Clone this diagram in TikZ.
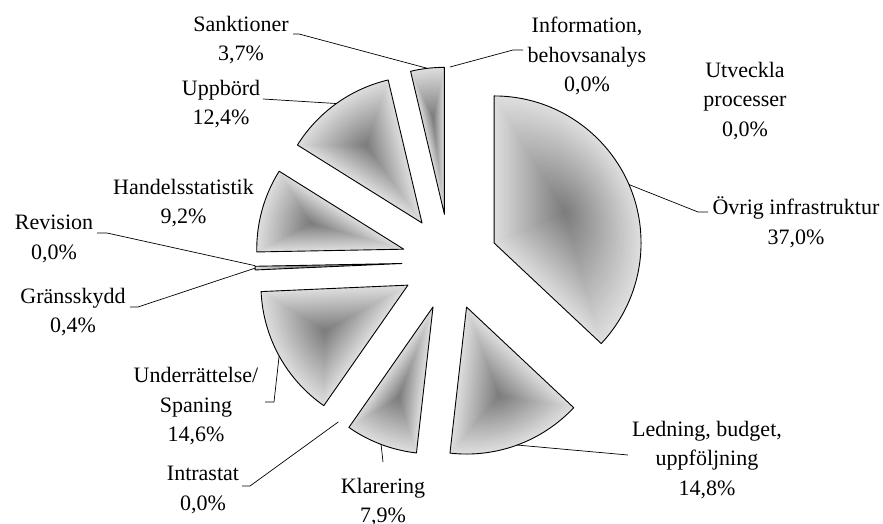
\documentclass[tikz,border=0pt]{standalone}
\usepackage{fontspec}
\setmainfont{Liberation Serif}

\tikzset{
  slice edge/.style={draw=black, line width=0.9pt, line join=round},
  leader/.style={draw=black, line width=0.7pt},
  lbl/.style={align=center, inner sep=0pt, font=\fontsize{22}{29.5}\selectfont},
}

\newcommand\pieR{147}   % sector radius
\newcommand\pieD{48}    % explode distance
\newcommand\shadesteps{40}

% \pieslice{a}{b}: exploded sector from angle a clockwise to angle b,
% filled with a gradient that darkens towards the sector's centroid
\newcommand\pieslice[2]{%
  \pgfmathsetmacro\slmid{(#1+#2)/2}%
  \pgfmathsetmacro\slhalf{(#1-#2)/2*pi/180}%
  \pgfmathsetmacro\slcen{2*\pieR*sin((#1-#2)/2)/(3*\slhalf)}%
  \foreach \k in {0,...,39}{%
    \pgfmathsetmacro\slscale{1-\k/\shadesteps}%
    \pgfmathsetmacro\sloff{\pieD+\slcen*(1-\slscale)}%
    \pgfmathsetmacro\slrad{\slscale*\pieR}%
    \pgfmathsetmacro\slpct{13+39*\k/\shadesteps}%
    \fill[black!\slpct] (C) ++(\slmid:\sloff) -- ++(#1:\slrad)
      arc[start angle=#1, end angle=#2, radius=\slrad] -- cycle;
  }%
  \draw[slice edge] (C) ++(\slmid:\pieD) -- ++(#1:\pieR)
    arc[start angle=#1, end angle=#2, radius=\pieR] -- cycle;
}

\begin{document}
\begin{tikzpicture}[x=1pt, y=1pt]
\useasboundingbox (0,0) rectangle (883,523);
\coordinate (C) at (450,261);

% sectors
\pieslice{90}{-43.2}        % Övrig infrastruktur
\pieslice{-43.2}{-96.48}    % Ledning, budget, uppföljning
\pieslice{-96.48}{-124.92}  % Klarering
\pieslice{-124.92}{-177.48} % Underrättelse/Spaning
\pieslice{-177.48}{-178.92} % Gränsskydd
\pieslice{-178.92}{-212.04} % Handelsstatistik
\pieslice{-212.04}{-256.68} % Uppbörd
\pieslice{-256.68}{-270}    % Sanktioner

% leader targets on the outer arcs (sector bisectors)
\coordinate (aOvr) at ([shift={(23.4:195)}]C);
\coordinate (aLed) at ([shift={(-69.84:195)}]C);
\coordinate (aKla) at ([shift={(-110.7:195)}]C);
\coordinate (aInt) at ([shift={(-124.92:195)}]C);
\coordinate (aUnd) at ([shift={(-151.2:195)}]C);
\coordinate (aGra) at ([shift={(-178.2:195)}]C);
\coordinate (aRev) at ([shift={(-178.92:195)}]C);
\coordinate (aUpp) at ([shift={(-234.36:195)}]C);
\coordinate (aSan) at ([shift={(-263.34:195)}]C);
\coordinate (aInf) at ([shift={(90:195)}]C);

% labels
\node[lbl] (nSan) at (241,483)   {Sanktioner\\3,7\%};
\node[lbl] (nInf) at (587,467)   {Information,\\behovsanalys\\0,0\%};
\node[lbl] (nUtv) at (745,422)   {Utveckla\\processer\\0,0\%};
\node[lbl] (nUpp) at (221,419)   {Uppbörd\\12,4\%};
\node[lbl] (nOvr) at (796,300.5) {Övrig infrastruktur\\37,0\%};
\node[lbl] (nHan) at (183.5,320) {Handelsstatistik\\9,2\%};
\node[lbl] (nRev) at (54,284)    {Revision\\0,0\%};
\node[lbl] (nGra) at (73,211)    {Gränsskydd\\0,4\%};
\node[lbl] (nUnd) at (196,116.5) {Underrättelse/\\Spaning\\14,6\%};
\node[lbl] (nInt) at (203,33)    {Intrastat\\0,0\%};
\node[lbl] (nKla) at (383,21)    {Klarering\\7,9\%};
\node[lbl] (nLed) at (707,63)    {Ledning, budget,\\uppföljning\\14,8\%};

% label ends of the leader lines
\coordinate (lSan) at (293,489);  \coordinate (kSan) at (299,489);
\coordinate (lInf) at (523,473);  \coordinate (kInf) at (513,473);
\coordinate (lUpp) at (263,424);
\coordinate (lOvr) at (708,311);  \coordinate (kOvr) at (698,311);
\coordinate (lLed) at (628,68);
\coordinate (lKla) at (383,61);
\coordinate (lInt) at (242,37);   \coordinate (kInt) at (250,37);
\coordinate (lUnd) at (265,121);  \coordinate (kUnd) at (274,121);
\coordinate (lGra) at (130,216);  \coordinate (kGra) at (138,216);
\coordinate (lRev) at (97,290);   \coordinate (kRev) at (107,290);

% leader lines
\draw[leader] (lSan) -- (kSan) -- (aSan);
\draw[leader] (aInf) -- (kInf) -- (lInf);
\draw[leader] (lUpp) -- (aUpp);
\draw[leader] (aOvr) -- (kOvr) -- (lOvr);
\draw[leader] (aLed) -- (lLed);
\draw[leader] (lKla) -- (aKla);
\draw[leader] (lInt) -- (kInt) -- (aInt);
\draw[leader] (lUnd) -- (kUnd) -- (aUnd);
\draw[leader] (lGra) -- (kGra) -- (aGra);
\draw[leader] (lRev) -- (kRev) -- (aRev);
\end{tikzpicture}
\end{document}
